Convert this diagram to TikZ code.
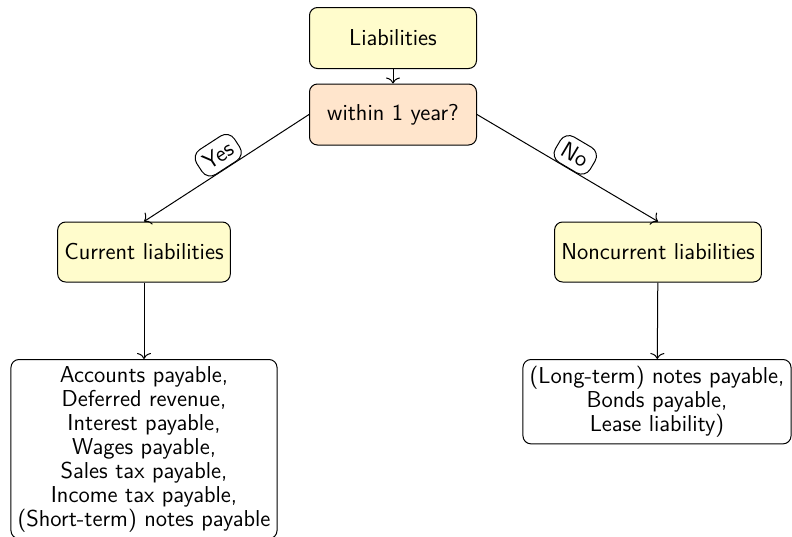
\documentclass[tikz,border=0pt]{standalone}
\usetikzlibrary{arrows.meta}
\begin{document}
\begin{tikzpicture}[x=0.5pt,y=-0.5pt,
  every node/.style={font=\sffamily\fontsize{11.5}{12}\selectfont},
  box/.style={draw, rounded corners=4pt, align=center, line width=0.5pt},
  topbox/.style={box, minimum width=83.5pt, minimum height=30.5pt},
  midbox/.style={box, minimum height=30pt},
  lbl/.style={draw, rounded corners=5pt, fill=white, midway, above, sloped, line width=0.5pt},
  arr/.style={-{To[length=3pt,width=7pt]}, line width=0.5pt}]
\useasboundingbox (0,0) rectangle (792,536);
\node[topbox, fill=yellow!20] (liab) at (393,38) {Liabilities};
\node[topbox, fill=orange!20] (q) at (393,114.5) {within 1 year?};
\node[midbox, fill=yellow!20] (cur) at (144,252) {Current liabilities};
\node[midbox, fill=yellow!20] (non) at (658,252) {Noncurrent liabilities};
\node[box, anchor=north] (curlist) at (144,359) {Accounts payable,\\Deferred revenue,\\Interest payable,\\Wages payable,\\Sales tax payable,\\Income tax payable,\\(Short-term) notes payable};
\node[box, anchor=north] (nonlist) at (657,359) {(Long-term) notes payable,\\Bonds payable,\\Lease liability)};
\draw[arr] (liab) -- (q);
\draw[arr] (q.west) -- node[lbl]{Yes} (cur.north);
\draw[arr] (q.east) -- node[lbl]{No} (non.north);
\draw[arr] (cur) -- (curlist);
\draw[arr] (non) -- (nonlist);
\end{tikzpicture}
\end{document}
